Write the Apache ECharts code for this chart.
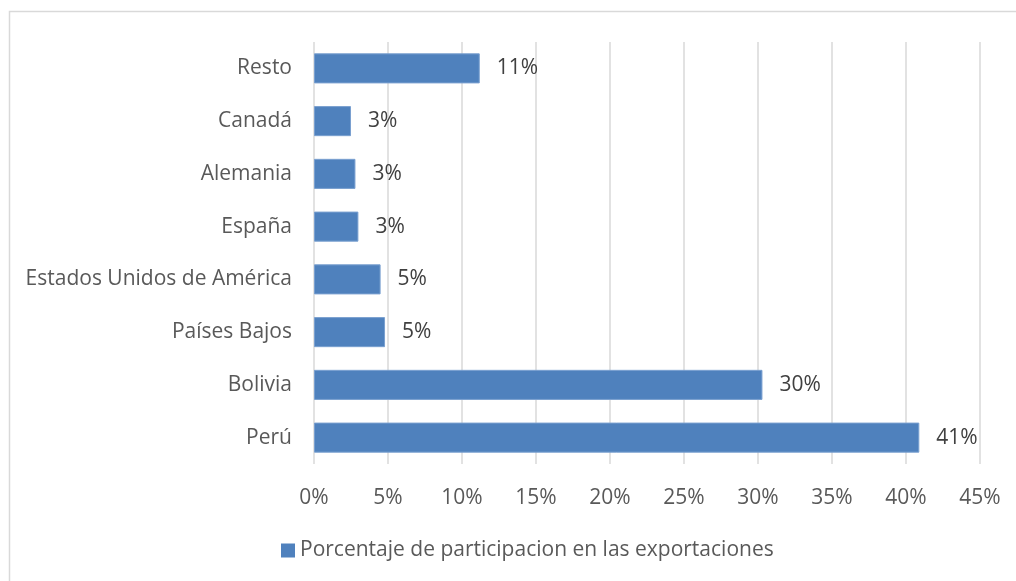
<!DOCTYPE html>
<html>
<head>
<meta charset="utf-8">
<script src="https://cdn.jsdelivr.net/npm/echarts@6/dist/echarts.min.js"></script>
<style>
  html, body { margin: 0; padding: 0; background: #fff; }
  #main { width: 1016px; height: 581px; }
</style>
</head>
<body>
<div id="main"></div>
<script>
// categorías de abajo hacia arriba
const categories = ['Perú', 'Bolivia', 'Países Bajos', 'Estados Unidos de América', 'España', 'Alemania', 'Canadá', 'Resto']
const shares = [40.9, 30.3, 4.8, 4.5, 3.0, 2.8, 2.5, 11.2]
const seriesName = 'Porcentaje de participacion en las exportaciones'

const font = 'Open Sans'
const textColor = '#595959'

const chart = echarts.init(document.getElementById('main'))

const option = {
  animation: false,
  textStyle: { fontFamily: font },
  graphic: [
    {
      type: 'rect',
      shape: { x: 9.5, y: 11.5, width: 1020, height: 600 },
      style: { fill: 'none', stroke: '#d9d9d9', lineWidth: 1.5 },
      silent: true,
    },
  ],
  grid: {
    left: 314,
    right: 36,
    top: 42,
    bottom: 117,
  },
  legend: {
    bottom: 15,
    left: 276,
    itemWidth: 14,
    itemHeight: 14,
    itemGap: 6,
    icon: 'rect',
    itemStyle: { borderWidth: 0 },
    textStyle: { fontFamily: font, fontSize: 21, color: textColor },
    data: [seriesName],
  },
  xAxis: {
    type: 'value',
    min: 0,
    max: 45,
    interval: 5,
    axisLine: { show: false },
    axisTick: { show: false },
    axisLabel: {
      formatter: '{value}%',
      fontFamily: font,
      fontSize: 21,
      color: textColor,
      margin: 24,
    },
    splitLine: { show: true, lineStyle: { color: '#d9d9d9', width: 1.5 } },
  },
  yAxis: {
    type: 'category',
    data: categories,
    axisLine: { show: false },
    axisTick: { show: false },
    axisLabel: {
      fontFamily: font,
      fontSize: 21,
      color: textColor,
      margin: 22,
    },
  },
  series: [
    {
      name: seriesName,
      type: 'bar',
      data: shares,
      barCategoryGap: '43%',
      itemStyle: { color: '#4f81bd', borderColor: '#7aa0d0', borderWidth: 1 },
      label: {
        show: true,
        position: 'right',
        distance: 17,
        fontFamily: font,
        fontSize: 21,
        color: '#404040',
        formatter: (p) => Math.round(p.value) + '%',
      },
    },
  ],
}

chart.setOption(option)
</script>
</body>
</html>
